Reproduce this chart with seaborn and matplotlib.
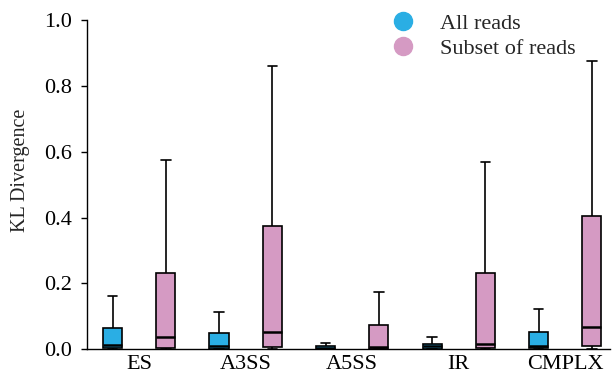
import numpy as np
import pandas as pd
import seaborn as sns
import matplotlib.pyplot as plt
from matplotlib.lines import Line2D

# categories and series
categories = ['ES', 'A3SS', 'A5SS', 'IR', 'CMPLX']
series = ['All reads', 'Subset of reads']
colors = ['#2AAEE4', '#D59AC3']

# five-number summaries: min, q1, median, q3, max
all_reads = [
    [0.0, 0.003, 0.014, 0.065, 0.162],
    [0.0, 0.001, 0.011, 0.050, 0.113],
    [0.0, 0.001, 0.004, 0.010, 0.020],
    [0.0, 0.002, 0.009, 0.016, 0.038],
    [0.0, 0.003, 0.011, 0.052, 0.123],
]
subset_reads = [
    [0.0, 0.005, 0.037, 0.232, 0.574],
    [0.0, 0.007, 0.052, 0.375, 0.859],
    [0.0, 0.002, 0.007, 0.073, 0.174],
    [0.0, 0.004, 0.017, 0.233, 0.570],
    [0.0, 0.009, 0.068, 0.405, 0.875],
]

# long-form table: 5 points per box, so quartiles/whiskers (0-100 pct) reproduce the summary
rows = []
for name, vals in zip(series, [all_reads, subset_reads]):
    for cat, summary in zip(categories, vals):
        for v in summary:
            rows.append({'event': cat, 'group': name, 'kl': v})
df = pd.DataFrame(rows)

sns.set_style('ticks')
plt.rcParams['font.family'] = ['Liberation Serif', 'DejaVu Serif']

fig = plt.figure(figsize=(6.16, 3.76), dpi=100)
ax = fig.add_axes([87 / 616, 26.7 / 376, (610 - 87) / 616, 329.3 / 376])

sns.boxplot(data=df, x='event', y='kl', hue='group', order=categories,
            hue_order=series, palette=colors, saturation=1, whis=(0, 100),
            showfliers=False, width=1.0, gap=0.64, linecolor='black', linewidth=1.2,
            medianprops={'linewidth': 1.8}, legend=False, ax=ax)

ax.set_xlim(-0.49, 4.42)
ax.set_ylim(0, 1.0)
ax.set_yticks([0.0, 0.2, 0.4, 0.6, 0.8, 1.0])
ax.set_xlabel('')
ax.set_ylabel('KL Divergence', fontsize=14.5)
ax.yaxis.set_label_coords(-0.109, 0.545)
ax.tick_params(axis='y', labelsize=16, length=4, width=1, pad=7, colors='black')
ax.tick_params(axis='x', labelsize=16, length=0, pad=4, colors='black')
sns.despine(ax=ax)
for s in ['left', 'bottom']:
    ax.spines[s].set_linewidth(1.0)
    ax.spines[s].set_color('black')

handles = [Line2D([], [], marker='o', ls='', markersize=13, color=c) for c in colors]
fig.legend(handles, series, loc='upper left', bbox_to_anchor=(392 / 616, 1 - 13 / 376),
           bbox_transform=fig.transFigure, frameon=False, fontsize=16,
           borderaxespad=0, borderpad=0, handlelength=1.0, handletextpad=1.17,
           labelspacing=0.2)

fig.savefig('out.png', dpi=100)
